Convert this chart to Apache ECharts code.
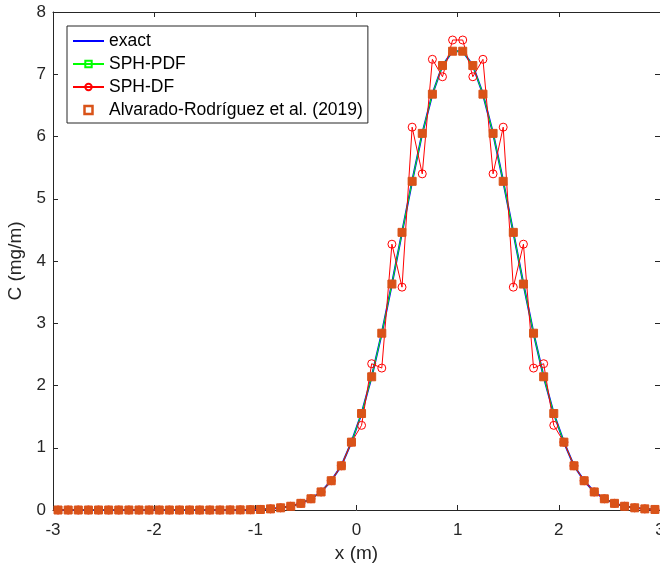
<!DOCTYPE html>
<html>
<head>
<meta charset="utf-8">
<script src="https://cdn.jsdelivr.net/npm/echarts@6/dist/echarts.min.js"></script>
<style>html,body{margin:0;padding:0;background:#fff;}#c{width:660px;height:570px;}</style>
</head>
<body>
<div id="c"></div>
<script>
var xVals = [-2.95,-2.85,-2.75,-2.65,-2.55,-2.45,-2.35,-2.25,-2.15,-2.05,
  -1.95,-1.85,-1.75,-1.65,-1.55,-1.45,-1.35,-1.25,-1.15,-1.05,
  -0.95,-0.85,-0.75,-0.65,-0.55,-0.45,-0.35,-0.25,-0.15,-0.05,
  0.05,0.15,0.25,0.35,0.45,0.55,0.65,0.75,0.85,0.95,
  1.05,1.15,1.25,1.35,1.45,1.55,1.65,1.75,1.85,1.95,
  2.05,2.15,2.25,2.35,2.45,2.55,2.65,2.75,2.85,2.95];

var exactVals = [0,0,0,0,0,0,0,0,0,0,
  0,0,0,0,0,0,0,0.001,0.002,0.004,
  0.009,0.018,0.035,0.06,0.107,0.18,0.29,0.47,0.71,1.09,
  1.55,2.14,2.84,3.63,4.46,5.28,6.05,6.68,7.14,7.37,
  7.37,7.14,6.68,6.05,5.28,4.46,3.63,2.84,2.14,1.55,
  1.09,0.71,0.47,0.29,0.18,0.107,0.06,0.035,0.018,0.009];

var pdfVals = [0,0,0,0,0,0,0,0,0,0,
  0,0,0,0,0,0,0,0.001,0.002,0.004,
  0.009,0.018,0.035,0.06,0.107,0.18,0.29,0.47,0.71,1.09,
  1.55,2.14,2.84,3.63,4.46,5.28,6.05,6.68,7.14,7.37,
  7.37,7.14,6.68,6.05,5.28,4.46,3.63,2.84,2.14,1.55,
  1.09,0.71,0.47,0.29,0.18,0.107,0.06,0.035,0.018,0.009];

var dfVals = [0,0,0,0,0,0,0,0,0,0,
  0,0,0,0,0,0,0,0.001,0.002,0.004,
  0.009,0.018,0.035,0.06,0.107,0.18,0.29,0.47,0.71,1.09,
  1.36,2.35,2.28,4.27,3.58,6.15,5.40,7.24,6.96,7.55,
  7.55,6.96,7.24,5.40,6.15,3.58,4.27,2.28,2.35,1.36,
  1.09,0.71,0.47,0.29,0.18,0.107,0.06,0.035,0.018,0.009];

var alvVals = [0,0,0,0,0,0,0,0,0,0,
  0,0,0,0,0,0,0,0.001,0.002,0.004,
  0.009,0.018,0.035,0.06,0.107,0.18,0.29,0.47,0.71,1.09,
  1.55,2.14,2.84,3.63,4.46,5.28,6.05,6.68,7.14,7.37,
  7.37,7.14,6.68,6.05,5.28,4.46,3.63,2.84,2.14,1.55,
  1.09,0.71,0.47,0.29,0.18,0.107,0.06,0.035,0.018,0.009];

var xTicks = [-3,-2,-1,0,1,2,3];
var yTicks = [0,1,2,3,4,5,6,7,8];
var seriesNames = ['exact','SPH-PDF','SPH-DF','Alvarado-Rodríguez et al. (2019)'];

function pairs(v){ return xVals.map(function(x,i){ return [x, v[i]]; }); }

var FONT = '"Liberation Sans", Arial, Helvetica, sans-serif';
var AX = '#262626';

var chart = echarts.init(document.getElementById('c'), null, {renderer:'canvas'});
var baseX = {type:'value', min:xTicks[0], max:xTicks[xTicks.length-1], interval:1,
  axisLine:{show:true, onZero:false, lineStyle:{color:AX, width:1}},
  axisTick:{show:true, inside:true, length:5, lineStyle:{color:AX}},
  splitLine:{show:false}};
var baseY = {type:'value', min:yTicks[0], max:yTicks[yTicks.length-1], interval:1,
  axisLine:{show:true, onZero:false, lineStyle:{color:AX, width:1}},
  axisTick:{show:true, inside:true, length:5, lineStyle:{color:AX}},
  splitLine:{show:false}};

chart.setOption({
  animation:false,
  backgroundColor:'#fff',
  grid:{left:53, width:607, top:12, bottom:60, containLabel:false, outerBoundsMode:'none'},
  xAxis:[
    Object.assign({}, baseX, {position:'bottom', name:'x (m)', nameLocation:'middle', nameGap:33,
      nameTextStyle:{color:AX, fontFamily:FONT, fontSize:19},
      axisLabel:{color:AX, fontFamily:FONT, fontSize:17, margin:12, showMaxLabel:true, showMinLabel:true}}),
    Object.assign({}, baseX, {position:'top', axisLabel:{show:false}})
  ],
  yAxis:[
    Object.assign({}, baseY, {position:'left', name:'C (mg/m)', nameLocation:'middle', nameGap:17,
      nameTextStyle:{color:AX, fontFamily:FONT, fontSize:19},
      axisLabel:{color:AX, fontFamily:FONT, fontSize:17, margin:7}}),
    Object.assign({}, baseY, {position:'right', axisLabel:{show:false}})
  ],
  legend:{
    orient:'vertical', left:67, top:26,
    backgroundColor:'#fff', borderColor:AX, borderWidth:1,
    padding:[6,5,4,5], itemWidth:31, itemHeight:8, itemGap:5,
    textStyle:{color:'#000', fontFamily:FONT, fontSize:17.5, lineHeight:18},
    data:[
      {name:seriesNames[0], icon:'path://M0,0 H31 V2 H0 Z', itemStyle:{color:'#0000FF'}},
      {name:seriesNames[1]},
      {name:seriesNames[2]},
      {name:seriesNames[3], icon:'path://M0,0 H10 V10 H0 Z', itemStyle:{color:'#fff', borderColor:'#D95319', borderWidth:2.5}}
    ]
  },
  series:[
    {name:seriesNames[0], type:'line', data:pairs(exactVals), symbol:'none', showSymbol:false,
      lineStyle:{color:'#0000FF', width:2}, itemStyle:{color:'#0000FF'}, z:2},
    {name:seriesNames[1], type:'line', data:pairs(pdfVals), symbol:'rect', symbolSize:5, showSymbol:true,
      lineStyle:{color:'#00FF00', width:1}, itemStyle:{color:'transparent', borderColor:'#00FF00', borderWidth:1}, z:3},
    {name:seriesNames[2], type:'line', data:pairs(dfVals), symbol:'circle', symbolSize:8, showSymbol:true,
      lineStyle:{color:'#FF0000', width:1}, itemStyle:{color:'transparent', borderColor:'#FF0000', borderWidth:1}, z:4},
    {name:seriesNames[3], type:'scatter', data:pairs(alvVals), symbol:'rect', symbolSize:8,
      itemStyle:{color:'#D95319', borderColor:'#D95319', borderWidth:1, opacity:1}, z:5}
  ]
});
</script>
</body>
</html>
